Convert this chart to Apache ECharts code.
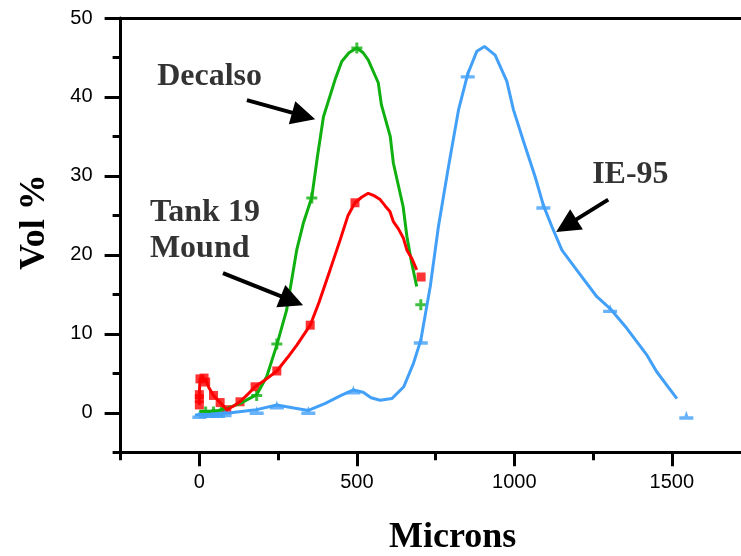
<!DOCTYPE html>
<html>
<head>
    <meta charset="utf-8">
    <title>Vol % vs Microns</title>
    <script src="https://cdn.jsdelivr.net/npm/echarts@6/dist/echarts.min.js"></script>
</head>
<body style="margin:0">
    <div id="main" style="width: 741px;height:556px;"></div>
    <script type="text/javascript">
        var myChart = echarts.init(document.getElementById('main'));

        // tick values
        var xMajorTicks = [0, 500, 1000, 1500];
        var xMinorTicks = [-250, 250, 750, 1250];
        var yMajorTicks = [0, 10, 20, 30, 40, 50];
        var yMinorTicks = [-5, 5, 15, 25, 35, 45];

        // Decalso (green)
        var decalsoLine = [[0, 0.2], [30, 0.2], [60, 0.3], [90, 0.6], [130, 1.2], [182, 2.3], [214, 4.6],
            [246, 8.6], [277, 13.0], [309, 20.6], [330, 24.0], [357, 27.3], [375, 32.5], [394, 37.5],
            [431, 42.2], [452, 44.5], [475, 45.6], [500, 46.2], [520, 45.6], [536, 44.7], [568, 41.8],
            [578, 39.0], [606, 35.0], [616, 31.6], [647, 26.1], [659, 22.3], [674, 19.0], [690, 16.0]];
        var decalsoMarks = [[20, 0.1], [45, 0.1], [70, 0.1], [182, 2.2], [246, 8.7], [357, 27.2],
            [500, 46.2], [703, 13.7]];

        // Tank 19 Mound (red)
        var tankLine = [[0, 1.0], [0, 2.3], [2, 4.3], [12, 4.4], [22, 4.0], [30, 3.2], [45, 2.2], [66, 1.3],
            [87, 0.4], [110, 0.9], [129, 1.4], [150, 2.2], [177, 3.3], [210, 4.2], [246, 5.3], [280, 7.0],
            [310, 8.6], [352, 11.1], [380, 14.0], [415, 18.1], [447, 21.9], [472, 25.0], [494, 26.6],
            [515, 27.3], [536, 27.8], [555, 27.5], [574, 27.0], [590, 26.2], [605, 25.5], [616, 24.2],
            [632, 23.3], [648, 22.1], [659, 20.6], [675, 19.5], [690, 18.1]];
        var tankMarks = [[0, 1.0], [0, 1.8], [0, 2.3], [2, 4.3], [15, 4.4], [20, 3.9], [45, 2.2], [66, 1.3],
            [87, 0.4], [129, 1.4], [177, 3.3], [246, 5.3], [352, 11.1], [494, 26.6], [704, 17.2]];

        // IE-95 (blue)
        var ieLine = [[-14, -0.3], [0, -0.2], [30, -0.2], [60, -0.1], [100, 0.0], [160, 0.3], [182, 0.4],
            [246, 1.0], [300, 0.6], [346, 0.3], [400, 1.2], [450, 2.2], [489, 2.9], [520, 2.6], [545, 1.9],
            [574, 1.6], [611, 1.8], [649, 3.3], [680, 6.3], [703, 9.2], [733, 16.0], [759, 23.6], [791, 31.2],
            [823, 38.4], [852, 42.9], [881, 45.8], [905, 46.4], [939, 45.3], [976, 42.0], [997, 38.4],
            [1029, 34.4], [1066, 29.9], [1092, 26.3], [1119, 23.6], [1151, 20.6], [1209, 17.5], [1262, 14.7],
            [1304, 13.2], [1357, 10.7], [1421, 7.3], [1452, 5.2], [1516, 1.8]];
        var ieMarks = [[0, -0.2], [20, -0.1], [40, -0.1], [60, -0.1], [80, 0], [182, 0.3], [246, 1.0],
            [346, 0.3], [489, 2.9], [703, 9.2], [852, 42.9], [1092, 26.3], [1304, 13.2], [1546, -0.3]];

        // annotations: [x, y, text] and arrows [from, to]
        var notes = [[-134, 42.6, 'Decalso'], [-157, 25.4, 'Tank 19'], [-157, 20.8, 'Mound'], [1247, 30.1, 'IE-95']];
        var arrows = [[[151, 39.6], [331, 37.6]], [[75, 17.7], [294, 14.2]], [[1298, 27.0], [1165, 23.7]]];

        var sansFont = 'Liberation Sans, Arial, sans-serif';
        var serifFont = 'Liberation Serif, Times New Roman, serif';
        var plusPath = 'path://M4,0 H7 V4 H11 V7 H7 V11 H4 V7 H0 V4 H4 Z';
        var iePath = 'path://M0,6 H14 V9 H0 Z M5,6 L7,1 L9,6 Z';

        var axisLine = { onZero: false, lineStyle: { color: '#000', width: 3 } };
        var noLine = { show: false, onZero: false };
        var plainNumber = function (v) { return String(v); };

        option = {
            backgroundColor: '#fff',
            animation: false,
            grid: { left: 120.6, top: 18, width: 630, bottom: 103.7, show: false, outerBoundsMode: 'none', containLabel: false },
            xAxis: [{
                type: 'value', position: 'bottom', min: -250, max: 1750,
                axisLine: axisLine,
                axisTick: { customValues: xMajorTicks, length: 14, lineStyle: { color: '#000', width: 3 } },
                axisLabel: { customValues: xMajorTicks, formatter: plainNumber, color: '#000', fontFamily: sansFont, fontSize: 20, margin: 20 },
                splitLine: { show: false },
                name: 'Microns', nameLocation: 'middle', nameGap: 67,
                nameTextStyle: { fontFamily: serifFont, fontWeight: 'bold', fontSize: 36, color: '#000', padding: [0, 0, 0, 34] }
            }, {
                type: 'value', position: 'bottom', min: -250, max: 1750,
                axisLine: noLine,
                axisTick: { customValues: xMinorTicks, length: 8, lineStyle: { color: '#000', width: 3 } },
                axisLabel: { show: false },
                splitLine: { show: false }
            }, {
                type: 'value', position: 'top', min: -250, max: 1750,
                axisLine: axisLine,
                axisTick: { show: false },
                axisLabel: { show: false },
                splitLine: { show: false }
            }],
            yAxis: [{
                type: 'value', position: 'left', min: -5, max: 50,
                axisLine: axisLine,
                axisTick: { customValues: yMajorTicks, length: 16, lineStyle: { color: '#000', width: 3 } },
                axisLabel: { customValues: yMajorTicks, formatter: plainNumber, color: '#000', fontFamily: sansFont, fontSize: 20, margin: 28 },
                splitLine: { show: false },
                name: 'Vol %', nameLocation: 'middle', nameGap: 68, nameRotate: 90,
                nameTextStyle: { fontFamily: serifFont, fontWeight: 'bold', fontSize: 36, color: '#000', padding: [0, 0, 0, 26] }
            }, {
                type: 'value', position: 'left', min: -5, max: 50,
                axisLine: noLine,
                axisTick: { customValues: yMinorTicks, length: 8, lineStyle: { color: '#000', width: 3 } },
                axisLabel: { show: false },
                splitLine: { show: false }
            }],
            series: [{
                name: 'Decalso', type: 'line', data: decalsoLine, showSymbol: false,
                lineStyle: { color: '#10b010', width: 3 }
            }, {
                type: 'scatter', data: decalsoMarks, symbol: plusPath, symbolSize: 11,
                itemStyle: { color: '#10b010' }
            }, {
                name: 'Tank 19 Mound', type: 'line', data: tankLine, showSymbol: false,
                lineStyle: { color: '#ff0000', width: 3 }
            }, {
                type: 'scatter', data: tankMarks, symbol: 'rect', symbolSize: 9,
                itemStyle: { color: '#ff0000' }
            }, {
                name: 'IE-95', type: 'line', data: ieLine, showSymbol: false,
                lineStyle: { color: '#42a0f8', width: 3 }
            }, {
                type: 'scatter', data: ieMarks, symbol: iePath, symbolSize: [14, 9],
                itemStyle: { color: '#42a0f8' }
            }, {
                type: 'scatter', silent: true, symbolSize: 0,
                data: notes,
                label: {
                    show: true, position: 'right', distance: 0,
                    formatter: function (p) { return p.data[2]; },
                    fontFamily: serifFont, fontWeight: 'bold', fontSize: 32, color: '#000'
                },
                markLine: {
                    silent: true, symbol: ['none', 'triangle'], symbolSize: 24,
                    label: { show: false },
                    lineStyle: { color: '#000', width: 4, type: 'solid' },
                    data: arrows.map(function (a) {
                        return [{ coord: a[0] }, { coord: a[1] }];
                    })
                }
            }]
        };

        myChart.setOption(option);
    </script>
</body>
</html>
